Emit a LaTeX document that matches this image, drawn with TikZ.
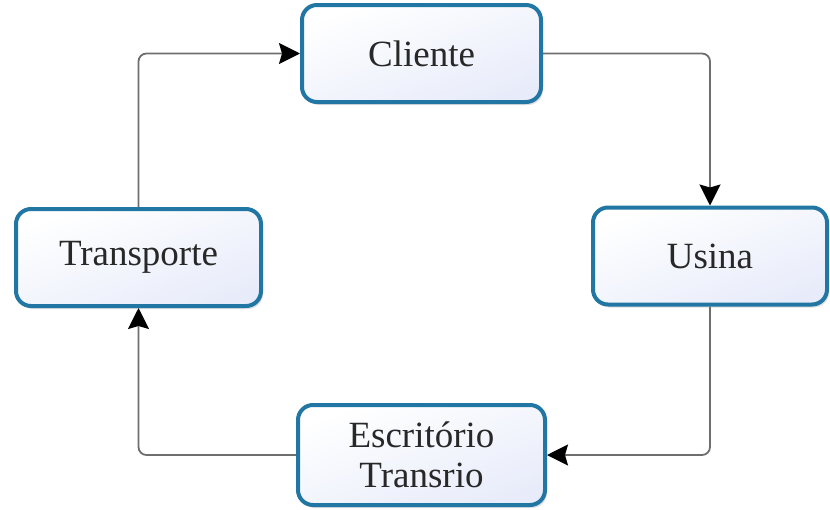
\documentclass[tikz,border=0pt]{standalone}
\usepackage{fontspec}
\setmainfont{Liberation Serif}
\usetikzlibrary{arrows.meta,shadows,calc}
\definecolor{boxedge}{RGB}{33,118,163}
\definecolor{boxfill}{RGB}{232,236,250}
\definecolor{conncol}{RGB}{110,110,110}
\definecolor{textcol}{RGB}{40,40,40}
\tikzset{
  procbox/.style={draw=boxedge, line width=4pt, rounded corners=15pt,
    top color=white, bottom color=boxfill, shading angle=20,
    drop shadow={shadow xshift=2pt, shadow yshift=-3pt, fill=black!25, opacity=0.5},
    align=center, text=textcol, font=\fontsize{37}{40}\selectfont, inner sep=0pt},
  conn/.style={draw=conncol, line width=1.8pt, rounded corners=8pt,
    -{Stealth[length=21pt,width=21pt,inset=3pt,color=black]}}
}
\begin{document}
\begin{tikzpicture}[x=1pt,y=-1pt]
\useasboundingbox (0,0) rectangle (830,509);
\node[procbox, minimum width=239pt, minimum height=97pt] (cl) at (421.5,53.5) {Cliente};
\node[procbox, minimum width=234pt, minimum height=97pt] (us) at (710,256) {Usina};
\node[procbox, minimum width=245pt, minimum height=97pt] (tr) at (138.5,257.5) {Transporte};
\node[procbox, minimum width=247pt, minimum height=100pt] (es) at (421.5,455) {Escritório\\Transrio};
\draw[conn] (tr.north) |- (cl.west);
\draw[conn] (cl.east) -| (us.north);
\draw[conn] (us.south) |- (es.east);
\draw[conn] (es.west) -| (tr.south);
\end{tikzpicture}
\end{document}
